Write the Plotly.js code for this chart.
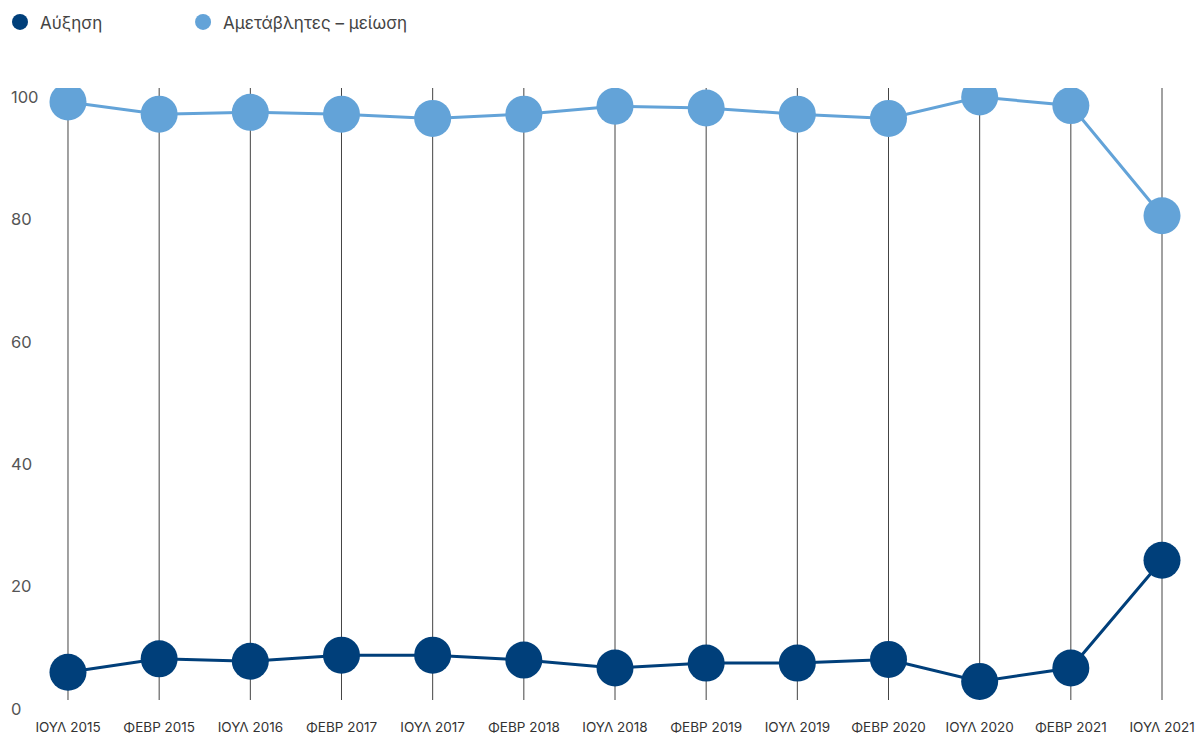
<!DOCTYPE html>
<html>
<head>
<meta charset="utf-8">
<script src="https://cdn.plot.ly/plotly-3.0.1.min.js"></script>
<style>
  html, body { margin: 0; padding: 0; background: #ffffff; }
  #chart { width: 1198px; height: 734px; }
</style>
</head>
<body>
<div id="chart"></div>
<script>
const categories = ["ΙΟΥΛ 2015", "ΦΕΒΡ 2015", "ΙΟΥΛ 2016", "ΦΕΒΡ 2017", "ΙΟΥΛ 2017", "ΦΕΒΡ 2018", "ΙΟΥΛ 2018", "ΦΕΒΡ 2019", "ΙΟΥΛ 2019", "ΦΕΒΡ 2020", "ΙΟΥΛ 2020", "ΦΕΒΡ 2021", "ΙΟΥΛ 2021"];
const increase = [6.0, 8.2, 7.8, 8.8, 8.8, 8.0, 6.7, 7.5, 7.5, 8.1, 4.5, 6.7, 24.3];
const unchangedDecrease = [99.2, 97.2, 97.5, 97.2, 96.5, 97.2, 98.5, 98.2, 97.2, 96.5, 100.0, 98.6, 80.6];
const seriesNames = ["Αύξηση", "Αμετάβλητες – μείωση"];
const yTicks = [0, 20, 40, 60, 80, 100];

const darkBlue = "#003f7a";
const lightBlue = "#63a3d8";
const FONT = "Inter, 'Noto Sans', sans-serif";

const idx = categories.map((_, i) => i);

const traces = [
  { x: idx, y: increase, mode: "lines", line: { color: darkBlue, width: 3 }, showlegend: false, hoverinfo: "skip" },
  { x: idx, y: unchangedDecrease, mode: "lines", line: { color: lightBlue, width: 3 }, showlegend: false, hoverinfo: "skip" },
  { x: idx, y: increase, mode: "markers", name: seriesNames[0], marker: { color: darkBlue, size: 37 }, legend: "legend" },
  { x: idx, y: unchangedDecrease, mode: "markers", name: seriesNames[1], marker: { color: lightBlue, size: 37 }, legend: "legend2" }
];

const shapes = idx.map(i => ({
  type: "line", xref: "x", yref: "y", x0: i, x1: i, y0: 1.47, y1: 101.6,
  line: { color: "#444444", width: 1 }, layer: "below"
}));

const legendFont = { size: 17, color: "#444444", family: FONT };

const layout = {
  width: 1198, height: 734,
  paper_bgcolor: "#ffffff", plot_bgcolor: "#ffffff",
  font: { family: FONT, color: "#444444" },
  margin: { l: 8, r: 8, t: 88, b: 22 },
  showlegend: true,
  legend: {
    orientation: "h", xref: "container", yref: "container",
    x: -0.0025, y: 0.994, xanchor: "left", yanchor: "top",
    font: legendFont, itemclick: false
  },
  legend2: {
    orientation: "h", xref: "container", yref: "container",
    x: 0.1528, y: 0.994, xanchor: "left", yanchor: "top",
    font: legendFont, itemclick: false
  },
  xaxis: {
    type: "linear",
    range: [-0.658, 12.307],
    tickmode: "array", tickvals: idx, ticktext: categories,
    showgrid: false, zeroline: false, showline: false,
    ticks: "outside", ticklen: 3, tickcolor: "rgba(0,0,0,0)",
    tickfont: { size: 13.5, color: "#333333", family: FONT },
    fixedrange: true
  },
  yaxis: {
    range: [-0.49, 101.47],
    tickmode: "array", tickvals: yTicks,
    ticklabelposition: "inside",
    ticklabeloverflow: "allow",
    showgrid: false, zeroline: false, showline: false,
    ticks: "", tickfont: { size: 16.5, color: "#555555", family: FONT },
    fixedrange: true
  },
  shapes: shapes
};

Plotly.newPlot("chart", traces, layout, { displayModeBar: false, staticPlot: true });
</script>
</body>
</html>
